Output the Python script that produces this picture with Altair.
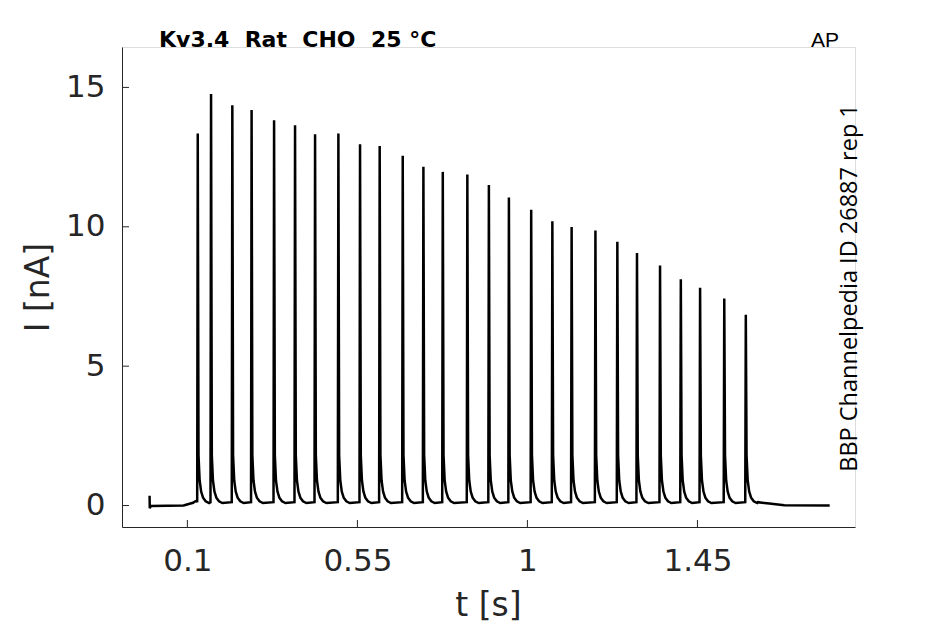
import altair as alt
import pandas as pd

# Spike times (s) and peak currents (nA)
spike_t = [0.1275, 0.1627, 0.219, 0.270, 0.3295, 0.385, 0.438, 0.4997, 0.557,
           0.609, 0.670, 0.7247, 0.776, 0.841, 0.898, 0.951, 1.010, 1.066,
           1.117, 1.180, 1.238, 1.290, 1.351, 1.406, 1.457, 1.521, 1.578]
spike_peak = [13.35, 14.76, 14.36, 14.19, 13.82, 13.64, 13.32, 13.35, 12.96,
              12.90, 12.55, 12.15, 11.97, 11.88, 11.50, 11.05, 10.61, 10.20,
              9.99, 9.87, 9.46, 9.06, 8.61, 8.12, 7.81, 7.43, 6.84]

# Trace before the first spike
head_t = [0.0, 0.0005, 0.003, 0.09, 0.115, 0.124]
head_i = [0.35, -0.10, -0.02, 0.0, 0.10, 0.18]

# Shape of each spike (offset from spike time, current)
rise_dt, rise_i = -0.0015, 0.12
decay_dt = [0.002, 0.005, 0.009, 0.014, 0.021, 0.030]
decay_i = [1.8, 0.9, 0.5, 0.28, 0.15, 0.09]

# Trace after the last spike
tail_t = [1.61, 1.64, 1.68, 1.80]
tail_i = [0.12, 0.07, 0.01, 0.0]

x_ticks = [0.1, 0.55, 1, 1.45]
y_ticks = [0, 5, 10, 15]

rows = []
for t, i in zip(head_t, head_i):
    rows.append((t, i))
for t, p in zip(spike_t, spike_peak):
    rows.append((t + rise_dt, rise_i))
    rows.append((t, p))
    for dt, di in zip(decay_dt, decay_i):
        rows.append((t + dt, di))
for t, i in zip(tail_t, tail_i):
    rows.append((t, i))
trace = pd.DataFrame(rows, columns=["t", "I"])
trace["order"] = range(len(trace))

W, H = 733, 480
AX = "#262626"
xs = alt.Scale(domain=[-0.073, 1.867], nice=False, zero=False)
ys = alt.Scale(domain=[-0.77, 16.45], nice=False, zero=False)

line = alt.Chart(trace).mark_line(color="black", strokeWidth=2.5, clip=True).encode(
    x=alt.X("t:Q", scale=xs, axis=alt.Axis(
        values=x_ticks, format=".3~g", ticks=False, grid=False,
        domainColor=AX, domainWidth=1, labelFont="DejaVu Sans",
        labelFontSize=31, labelColor=AX, labelPadding=19, labelOverlap=False,
        title="t [s]", titleFont="DejaVu Sans", titleFontSize=33,
        titleFontWeight="normal", titleColor=AX, titleX=366, titleY=78,
        titleAlign="center", titleBaseline="middle")),
    y=alt.Y("I:Q", scale=ys, axis=alt.Axis(
        values=y_ticks, format="d", ticks=False, grid=False,
        domainColor=AX, domainWidth=1, labelFont="DejaVu Sans",
        labelFontSize=31, labelColor=AX, labelPadding=17, labelOverlap=False,
        title="I [nA]", titleFont="DejaVu Sans", titleFontSize=33,
        titleFontWeight="normal", titleColor=AX, titleX=-84, titleY=240,
        titleAngle=270, titleAlign="center", titleBaseline="middle")),
    order="order:Q",
)

xt = alt.Chart(pd.DataFrame({"t": x_ticks})).mark_rule(color=AX, strokeWidth=1).encode(
    x=alt.X("t:Q", scale=xs), y=alt.value(H), y2=alt.value(H - 7))
yt = alt.Chart(pd.DataFrame({"I": y_ticks})).mark_rule(color=AX, strokeWidth=1).encode(
    y=alt.Y("I:Q", scale=ys), x=alt.value(0), x2=alt.value(7))

nb = "\u00a0"
title_txt = f"Kv3.4{nb}{nb}Rat{nb}{nb}CHO{nb}{nb}25{nb}°C"
title = alt.Chart(pd.DataFrame({"s": [title_txt]})).mark_text(
    font="DejaVu Sans", fontSize=22, fontWeight="bold", color="black",
    align="left", baseline="alphabetic").encode(
    text="s:N", x=alt.value(37), y=alt.value(0))
ap = alt.Chart(pd.DataFrame({"s": ["AP"]})).mark_text(
    font="Liberation Sans", fontSize=21, color="black",
    align="center", baseline="alphabetic").encode(
    text="s:N", x=alt.value(703), y=alt.value(0))
side = alt.Chart(pd.DataFrame({"s": ["BBP Channelpedia ID 26887 rep 1"]})).mark_text(
    font="Open Sans", fontSize=23.5, color="black", angle=270,
    align="center", baseline="middle").encode(
    text="s:N", x=alt.value(728), y=alt.value(241))

chart = alt.layer(line, xt, yt, title, ap, side).properties(
    width=W, height=H,
    autosize=alt.AutoSizeParams(type="none"),
    padding={"left": 114, "top": 39, "right": 80, "bottom": 96},
).configure_view(stroke=None).configure(background="white")

chart.save("out.html", embed_options={"renderer": "svg", "actions": False})
